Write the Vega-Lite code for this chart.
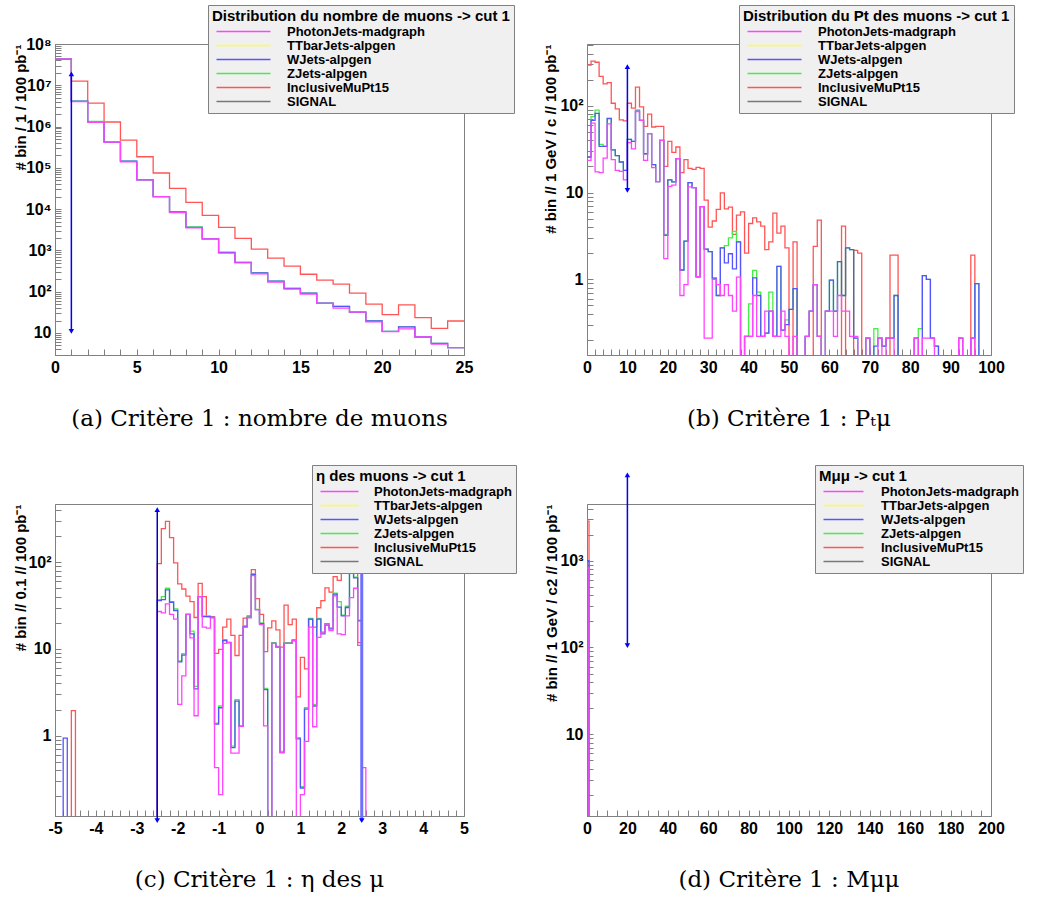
{
"$schema":"https://vega.github.io/schema/vega-lite/v6.json",
"autosize":{"type":"pad"},
"padding":{"left":12,"top":4,"right":0,"bottom":10},
"background":"white",
"config":{
 "font":"Liberation Sans",
 "view":{"stroke":"#808080","strokeWidth":1},
 "axis":{"grid":false,"domainColor":"#808080","tickColor":"#808080","labelFont":"Liberation Sans","labelFontWeight":"bold","labelFontSize":16,"labelColor":"black","titleFont":"Liberation Sans","titleFontWeight":"bold","titleFontSize":15,"titleColor":"black","tickSize":-6,"labelPadding":10,"labelOverlap":false,"labelFlush":false},
 "legend":{"fillColor":"#f0f0f0","strokeColor":"#808080","padding":4,"titleFont":"Liberation Sans","titleFontWeight":"bold","titleFontSize":15,"titleColor":"black","titlePadding":1,"labelFont":"Liberation Sans","labelFontWeight":"bold","labelFontSize":13,"labelColor":"black","symbolStrokeWidth":1.3,"labelLimit":260,"titleLimit":400,"cornerRadius":0},
 "title":{"font":"DejaVu Serif","fontSize":23,"fontWeight":"normal","color":"black","orient":"bottom","anchor":"middle","offset":33}
},
"datasets":{
"names":[{"c":"P","name":"PhotonJets-madgraph"},{"c":"T","name":"TTbarJets-alpgen"},{"c":"W","name":"WJets-alpgen"},{"c":"Z","name":"ZJets-alpgen"},{"c":"I","name":"InclusiveMuPt15"},{"c":"S","name":"SIGNAL"}],
"a":[
{"c":"I","x":0,"y":43000000},{"c":"I","x":1,"y":12600000},{"c":"I","x":2,"y":3700000},{"c":"I","x":3,"y":1290000},{"c":"I","x":4,"y":470000},{"c":"I","x":5,"y":186000},{"c":"I","x":6,"y":75000},{"c":"I","x":7,"y":32000},{"c":"I","x":8,"y":14600},{"c":"I","x":9,"y":7100},{"c":"I","x":10,"y":3600},{"c":"I","x":11,"y":1960},{"c":"I","x":12,"y":1070},{"c":"I","x":13,"y":650},{"c":"I","x":14,"y":415},{"c":"I","x":15,"y":265},{"c":"I","x":16,"y":190},{"c":"I","x":17,"y":152},{"c":"I","x":18,"y":92},{"c":"I","x":19,"y":50},{"c":"I","x":20,"y":28},{"c":"I","x":21,"y":48},{"c":"I","x":22,"y":23.5},{"c":"I","x":23,"y":13},{"c":"I","x":24,"y":19.5},{"c":"I","x":25,"y":19.5},
{"c":"Z","x":0,"y":43000000},{"c":"Z","x":1,"y":4100000},{"c":"Z","x":2,"y":1330000},{"c":"Z","x":3,"y":420000},{"c":"Z","x":4,"y":145000},{"c":"Z","x":5,"y":51000},{"c":"Z","x":6,"y":20000},{"c":"Z","x":7,"y":8600},{"c":"Z","x":8,"y":3700},{"c":"Z","x":9,"y":1900},{"c":"Z","x":10,"y":900},{"c":"Z","x":11,"y":515},{"c":"Z","x":12,"y":285},{"c":"Z","x":13,"y":180},{"c":"Z","x":14,"y":120},{"c":"Z","x":15,"y":92},{"c":"Z","x":16,"y":53},{"c":"Z","x":17,"y":44},{"c":"Z","x":18,"y":32},{"c":"Z","x":19,"y":19.5},{"c":"Z","x":20,"y":11},{"c":"Z","x":21,"y":14},{"c":"Z","x":22,"y":8},{"c":"Z","x":23,"y":5.6},{"c":"Z","x":24,"y":4.4},{"c":"Z","x":25,"y":4.4},
{"c":"W","x":0,"y":43000000},{"c":"W","x":1,"y":4100000},{"c":"W","x":2,"y":1260000},{"c":"W","x":3,"y":420000},{"c":"W","x":4,"y":145000},{"c":"W","x":5,"y":51000},{"c":"W","x":6,"y":20000},{"c":"W","x":7,"y":8600},{"c":"W","x":8,"y":3600},{"c":"W","x":9,"y":1900},{"c":"W","x":10,"y":900},{"c":"W","x":11,"y":515},{"c":"W","x":12,"y":285},{"c":"W","x":13,"y":180},{"c":"W","x":14,"y":120},{"c":"W","x":15,"y":92},{"c":"W","x":16,"y":53},{"c":"W","x":17,"y":44},{"c":"W","x":18,"y":32},{"c":"W","x":19,"y":19.5},{"c":"W","x":20,"y":11},{"c":"W","x":21,"y":14},{"c":"W","x":22,"y":8},{"c":"W","x":23,"y":5.6},{"c":"W","x":24,"y":4.4},{"c":"W","x":25,"y":4.4},
{"c":"P","x":0,"y":43000000},{"c":"P","x":1,"y":4000000},{"c":"P","x":2,"y":1260000},{"c":"P","x":3,"y":420000},{"c":"P","x":4,"y":140000},{"c":"P","x":5,"y":51000},{"c":"P","x":6,"y":20000},{"c":"P","x":7,"y":8300},{"c":"P","x":8,"y":3500},{"c":"P","x":9,"y":1900},{"c":"P","x":10,"y":860},{"c":"P","x":11,"y":500},{"c":"P","x":12,"y":270},{"c":"P","x":13,"y":172},{"c":"P","x":14,"y":116},{"c":"P","x":15,"y":87},{"c":"P","x":16,"y":52},{"c":"P","x":17,"y":40},{"c":"P","x":18,"y":32},{"c":"P","x":19,"y":18.5},{"c":"P","x":20,"y":10.8},{"c":"P","x":21,"y":12.6},{"c":"P","x":22,"y":8},{"c":"P","x":23,"y":5.4},{"c":"P","x":24,"y":4.4},{"c":"P","x":25,"y":4.4}
],
"b":[
{"c":"I","x":0,"y":294},{"c":"I","x":1,"y":327},{"c":"I","x":2,"y":318},{"c":"I","x":3,"y":219},{"c":"I","x":4,"y":179},{"c":"I","x":5,"y":185},{"c":"I","x":6,"y":107},{"c":"I","x":7,"y":92},{"c":"I","x":8,"y":69},{"c":"I","x":9,"y":67},{"c":"I","x":10,"y":107},{"c":"I","x":11,"y":94},{"c":"I","x":12,"y":164},{"c":"I","x":13,"y":97},{"c":"I","x":14,"y":58},{"c":"I","x":15,"y":80},{"c":"I","x":16,"y":57},{"c":"I","x":17,"y":58},{"c":"I","x":19,"y":20},{"c":"I","x":20,"y":39},{"c":"I","x":21,"y":29},{"c":"I","x":22,"y":33.5},{"c":"I","x":23,"y":17},{"c":"I","x":24,"y":24},{"c":"I","x":25,"y":19},{"c":"I","x":26,"y":18.5},{"c":"I","x":27,"y":19.5},{"c":"I","x":28,"y":19},{"c":"I","x":29,"y":8.2},{"c":"I","x":30,"y":4.0},{"c":"I","x":31,"y":4.7},{"c":"I","x":32,"y":6.4},{"c":"I","x":33,"y":9.9},{"c":"I","x":34,"y":6.5},{"c":"I","x":35,"y":6.8},{"c":"I","x":36,"y":3.3},{"c":"I","x":37,"y":5.5},{"c":"I","x":38,"y":6.0},{"c":"I","x":39,"y":2.0},{"c":"I","x":40,"y":4.4},{"c":"I","x":41,"y":5.1},{"c":"I","x":42,"y":4.6},{"c":"I","x":43,"y":4.1},{"c":"I","x":44,"y":2.2},{"c":"I","x":45,"y":2.7},{"c":"I","x":46,"y":5.8},{"c":"I","x":47,"y":3.4},{"c":"I","x":48,"y":4.1},{"c":"I","x":49,"y":2.3},{"c":"I","x":50,"y":0.001},{"c":"I","x":51,"y":2.7},{"c":"I","x":52,"y":0.001},{"c":"I","x":56,"y":2.4},{"c":"I","x":57,"y":4.8},{"c":"I","x":58,"y":0.001},{"c":"I","x":63,"y":4.1},{"c":"I","x":64,"y":0.001},{"c":"I","x":66,"y":2.15},{"c":"I","x":67,"y":2.0},{"c":"I","x":68,"y":0.001},{"c":"I","x":75,"y":1.9},{"c":"I","x":77,"y":0.001},{"c":"I","x":95,"y":1.9},{"c":"I","x":96,"y":0.001},{"c":"I","x":100,"y":0.001},
{"c":"Z","x":0,"y":25.7},{"c":"Z","x":1,"y":75},{"c":"Z","x":2,"y":89},{"c":"Z","x":3,"y":36},{"c":"Z","x":4,"y":34},{"c":"Z","x":5,"y":72},{"c":"Z","x":6,"y":31},{"c":"Z","x":7,"y":26.7},{"c":"Z","x":8,"y":22.5},{"c":"Z","x":9,"y":18},{"c":"Z","x":10,"y":41},{"c":"Z","x":11,"y":39},{"c":"Z","x":12,"y":90},{"c":"Z","x":13,"y":68},{"c":"Z","x":14,"y":28},{"c":"Z","x":15,"y":47.7},{"c":"Z","x":16,"y":21},{"c":"Z","x":17,"y":13.4},{"c":"Z","x":18,"y":40},{"c":"Z","x":19,"y":3.3},{"c":"Z","x":20,"y":14},{"c":"Z","x":21,"y":13.3},{"c":"Z","x":22,"y":24.6},{"c":"Z","x":23,"y":1.28},{"c":"Z","x":24,"y":2.76},{"c":"Z","x":25,"y":13},{"c":"Z","x":26,"y":11.4},{"c":"Z","x":27,"y":1.07},{"c":"Z","x":28,"y":6.9},{"c":"Z","x":29,"y":2.23},{"c":"Z","x":30,"y":2.08},{"c":"Z","x":31,"y":1.03},{"c":"Z","x":32,"y":0.65},{"c":"Z","x":33,"y":2.3},{"c":"Z","x":34,"y":2.45},{"c":"Z","x":35,"y":3.0},{"c":"Z","x":36,"y":3.56},{"c":"Z","x":37,"y":2.7},{"c":"Z","x":38,"y":0.001},{"c":"Z","x":39,"y":0.22},{"c":"Z","x":40,"y":0.52},{"c":"Z","x":41,"y":1.27},{"c":"Z","x":42,"y":0.71},{"c":"Z","x":43,"y":0.22},{"c":"Z","x":44,"y":0.24},{"c":"Z","x":45,"y":0.71},{"c":"Z","x":46,"y":0.22},{"c":"Z","x":47,"y":1.41},{"c":"Z","x":48,"y":0.26},{"c":"Z","x":49,"y":0.34},{"c":"Z","x":50,"y":0.45},{"c":"Z","x":51,"y":0.78},{"c":"Z","x":52,"y":0.001},{"c":"Z","x":54,"y":0.22},{"c":"Z","x":55,"y":0.43},{"c":"Z","x":56,"y":0.87},{"c":"Z","x":57,"y":0.22},{"c":"Z","x":58,"y":0.001},{"c":"Z","x":59,"y":0.43},{"c":"Z","x":60,"y":0.98},{"c":"Z","x":61,"y":0.43},{"c":"Z","x":62,"y":1.6},{"c":"Z","x":63,"y":0.65},{"c":"Z","x":64,"y":2.3},{"c":"Z","x":65,"y":2.2},{"c":"Z","x":66,"y":0.21},{"c":"Z","x":67,"y":0.001},{"c":"Z","x":69,"y":0.21},{"c":"Z","x":70,"y":0.001},{"c":"Z","x":71,"y":0.27},{"c":"Z","x":72,"y":0.21},{"c":"Z","x":73,"y":0.17},{"c":"Z","x":74,"y":0.21},{"c":"Z","x":76,"y":0.65},{"c":"Z","x":77,"y":0.001},{"c":"Z","x":81,"y":0.21},{"c":"Z","x":82,"y":0.27},{"c":"Z","x":83,"y":1.1},{"c":"Z","x":84,"y":1.0},{"c":"Z","x":85,"y":0.21},{"c":"Z","x":86,"y":0.17},{"c":"Z","x":87,"y":0.001},{"c":"Z","x":92,"y":0.21},{"c":"Z","x":93,"y":0.001},{"c":"Z","x":95,"y":0.21},{"c":"Z","x":96,"y":0.89},{"c":"Z","x":97,"y":0.001},{"c":"Z","x":100,"y":0.001},
{"c":"W","x":0,"y":25.7},{"c":"W","x":1,"y":68},{"c":"W","x":2,"y":82},{"c":"W","x":3,"y":34},{"c":"W","x":5,"y":71},{"c":"W","x":6,"y":31},{"c":"W","x":7,"y":26.7},{"c":"W","x":8,"y":22.5},{"c":"W","x":9,"y":18},{"c":"W","x":10,"y":41},{"c":"W","x":11,"y":39},{"c":"W","x":12,"y":87},{"c":"W","x":13,"y":68},{"c":"W","x":14,"y":28},{"c":"W","x":15,"y":47.7},{"c":"W","x":16,"y":21},{"c":"W","x":17,"y":13.4},{"c":"W","x":18,"y":40},{"c":"W","x":19,"y":3.2},{"c":"W","x":20,"y":14},{"c":"W","x":21,"y":13.3},{"c":"W","x":22,"y":24.6},{"c":"W","x":23,"y":1.28},{"c":"W","x":24,"y":2.76},{"c":"W","x":25,"y":13},{"c":"W","x":26,"y":11.4},{"c":"W","x":27,"y":1.07},{"c":"W","x":28,"y":6.9},{"c":"W","x":29,"y":2.23},{"c":"W","x":30,"y":2.08},{"c":"W","x":31,"y":1.03},{"c":"W","x":32,"y":0.65},{"c":"W","x":33,"y":2.3},{"c":"W","x":34,"y":1.55},{"c":"W","x":35,"y":1.97},{"c":"W","x":36,"y":1.32},{"c":"W","x":37,"y":2.7},{"c":"W","x":38,"y":0.001},{"c":"W","x":39,"y":0.22},{"c":"W","x":41,"y":1.04},{"c":"W","x":42,"y":0.65},{"c":"W","x":43,"y":0.22},{"c":"W","x":44,"y":0.24},{"c":"W","x":45,"y":0.43},{"c":"W","x":46,"y":0.22},{"c":"W","x":47,"y":1.41},{"c":"W","x":48,"y":0.26},{"c":"W","x":49,"y":0.3},{"c":"W","x":50,"y":0.45},{"c":"W","x":51,"y":0.78},{"c":"W","x":52,"y":0.001},{"c":"W","x":54,"y":0.22},{"c":"W","x":55,"y":0.43},{"c":"W","x":56,"y":0.87},{"c":"W","x":57,"y":0.22},{"c":"W","x":58,"y":0.001},{"c":"W","x":59,"y":0.43},{"c":"W","x":60,"y":0.98},{"c":"W","x":61,"y":0.43},{"c":"W","x":62,"y":1.6},{"c":"W","x":63,"y":0.65},{"c":"W","x":64,"y":2.3},{"c":"W","x":65,"y":2.2},{"c":"W","x":66,"y":0.21},{"c":"W","x":67,"y":0.001},{"c":"W","x":69,"y":0.21},{"c":"W","x":70,"y":0.001},{"c":"W","x":71,"y":0.17},{"c":"W","x":72,"y":0.21},{"c":"W","x":73,"y":0.17},{"c":"W","x":74,"y":0.21},{"c":"W","x":76,"y":0.65},{"c":"W","x":77,"y":0.001},{"c":"W","x":81,"y":0.21},{"c":"W","x":82,"y":0.001},{"c":"W","x":83,"y":1.1},{"c":"W","x":84,"y":1.0},{"c":"W","x":85,"y":0.21},{"c":"W","x":86,"y":0.17},{"c":"W","x":87,"y":0.001},{"c":"W","x":92,"y":0.21},{"c":"W","x":93,"y":0.001},{"c":"W","x":95,"y":0.21},{"c":"W","x":96,"y":0.89},{"c":"W","x":97,"y":0.001},{"c":"W","x":100,"y":0.001},
{"c":"P","x":0,"y":23.5},{"c":"P","x":1,"y":63},{"c":"P","x":2,"y":17.3},{"c":"P","x":3,"y":17},{"c":"P","x":4,"y":25},{"c":"P","x":5,"y":62},{"c":"P","x":6,"y":24},{"c":"P","x":7,"y":18},{"c":"P","x":8,"y":17.5},{"c":"P","x":9,"y":14},{"c":"P","x":10,"y":37.6},{"c":"P","x":11,"y":31.8},{"c":"P","x":12,"y":86},{"c":"P","x":13,"y":68},{"c":"P","x":14,"y":23.5},{"c":"P","x":15,"y":47.7},{"c":"P","x":16,"y":19.4},{"c":"P","x":17,"y":13.4},{"c":"P","x":18,"y":40},{"c":"P","x":19,"y":1.73},{"c":"P","x":20,"y":11.8},{"c":"P","x":21,"y":12.2},{"c":"P","x":22,"y":24.6},{"c":"P","x":23,"y":0.65},{"c":"P","x":24,"y":0.87},{"c":"P","x":25,"y":11.6},{"c":"P","x":26,"y":11.4},{"c":"P","x":27,"y":1.07},{"c":"P","x":28,"y":6.9},{"c":"P","x":29,"y":0.21},{"c":"P","x":31,"y":1.0},{"c":"P","x":32,"y":0.87},{"c":"P","x":33,"y":0.65},{"c":"P","x":34,"y":0.87},{"c":"P","x":35,"y":0.65},{"c":"P","x":36,"y":0.43},{"c":"P","x":37,"y":1.06},{"c":"P","x":38,"y":0.001},{"c":"P","x":39,"y":0.22},{"c":"P","x":41,"y":0.65},{"c":"P","x":42,"y":0.22},{"c":"P","x":44,"y":0.43},{"c":"P","x":46,"y":0.22},{"c":"P","x":48,"y":0.43},{"c":"P","x":49,"y":0.22},{"c":"P","x":50,"y":0.001},{"c":"P","x":51,"y":0.22},{"c":"P","x":52,"y":0.001},{"c":"P","x":54,"y":0.22},{"c":"P","x":55,"y":0.43},{"c":"P","x":56,"y":0.87},{"c":"P","x":57,"y":0.22},{"c":"P","x":58,"y":0.001},{"c":"P","x":59,"y":0.43},{"c":"P","x":61,"y":0.22},{"c":"P","x":62,"y":0.65},{"c":"P","x":63,"y":0.43},{"c":"P","x":65,"y":0.22},{"c":"P","x":67,"y":0.001},{"c":"P","x":69,"y":0.21},{"c":"P","x":70,"y":0.001},{"c":"P","x":72,"y":0.21},{"c":"P","x":73,"y":0.001},{"c":"P","x":74,"y":0.21},{"c":"P","x":76,"y":0.001},{"c":"P","x":81,"y":0.21},{"c":"P","x":82,"y":0.001},{"c":"P","x":83,"y":0.21},{"c":"P","x":86,"y":0.001},{"c":"P","x":92,"y":0.21},{"c":"P","x":93,"y":0.001},{"c":"P","x":95,"y":0.21},{"c":"P","x":96,"y":0.001},{"c":"P","x":100,"y":0.001}
],
"c":[
{"c":"I","x":-5,"y":0.001},{"c":"I","x":-4.6,"y":1.95},{"c":"I","x":-4.5,"y":0.001},{"c":"I","x":-2.5,"y":96},{"c":"I","x":-2.4,"y":243},{"c":"I","x":-2.3,"y":295},{"c":"I","x":-2.2,"y":191},{"c":"I","x":-2.1,"y":98},{"c":"I","x":-2.0,"y":56},{"c":"I","x":-1.9,"y":49},{"c":"I","x":-1.8,"y":40.6},{"c":"I","x":-1.7,"y":35},{"c":"I","x":-1.6,"y":23},{"c":"I","x":-1.5,"y":57},{"c":"I","x":-1.4,"y":40},{"c":"I","x":-1.3,"y":23.6},{"c":"I","x":-1.1,"y":8.9},{"c":"I","x":-1.0,"y":9.9},{"c":"I","x":-0.9,"y":17.8},{"c":"I","x":-0.8,"y":22},{"c":"I","x":-0.7,"y":14.3},{"c":"I","x":-0.6,"y":8.4},{"c":"I","x":-0.5,"y":14.3},{"c":"I","x":-0.4,"y":22.6},{"c":"I","x":-0.3,"y":24},{"c":"I","x":-0.2,"y":82},{"c":"I","x":-0.1,"y":38},{"c":"I","x":0,"y":25},{"c":"I","x":0.1,"y":9.3},{"c":"I","x":0.2,"y":17.5},{"c":"I","x":0.3,"y":21},{"c":"I","x":0.4,"y":16.6},{"c":"I","x":0.5,"y":10.5},{"c":"I","x":0.6,"y":32},{"c":"I","x":0.7,"y":19},{"c":"I","x":0.8,"y":22},{"c":"I","x":0.9,"y":2.8},{"c":"I","x":1.0,"y":8.0},{"c":"I","x":1.1,"y":5.9},{"c":"I","x":1.2,"y":22},{"c":"I","x":1.3,"y":17.8},{"c":"I","x":1.4,"y":29.8},{"c":"I","x":1.5,"y":36},{"c":"I","x":1.6,"y":50.6},{"c":"I","x":1.7,"y":45},{"c":"I","x":1.8,"y":68},{"c":"I","x":1.9,"y":61.5},{"c":"I","x":2.0,"y":109},{"c":"I","x":2.1,"y":163},{"c":"I","x":2.2,"y":250},{"c":"I","x":2.3,"y":700},{"c":"I","x":2.4,"y":11.8},{"c":"I","x":2.5,"y":0.001},{"c":"I","x":5,"y":0.001},
{"c":"Z","x":-5,"y":0.001},{"c":"Z","x":-2.5,"y":37},{"c":"Z","x":-2.4,"y":40},{"c":"Z","x":-2.3,"y":50},{"c":"Z","x":-2.2,"y":35},{"c":"Z","x":-2.1,"y":29},{"c":"Z","x":-2.0,"y":7.3},{"c":"Z","x":-1.9,"y":8.8},{"c":"Z","x":-1.8,"y":25},{"c":"Z","x":-1.7,"y":16},{"c":"Z","x":-1.6,"y":3.7},{"c":"Z","x":-1.5,"y":40},{"c":"Z","x":-1.4,"y":24},{"c":"Z","x":-1.2,"y":23},{"c":"Z","x":-1.1,"y":1.4},{"c":"Z","x":-1.0,"y":2.2},{"c":"Z","x":-0.9,"y":12.8},{"c":"Z","x":-0.8,"y":12},{"c":"Z","x":-0.7,"y":0.76},{"c":"Z","x":-0.6,"y":2.6},{"c":"Z","x":-0.5,"y":1.3},{"c":"Z","x":-0.4,"y":18.5},{"c":"Z","x":-0.3,"y":23.5},{"c":"Z","x":-0.2,"y":73},{"c":"Z","x":-0.1,"y":28.6},{"c":"Z","x":0,"y":20},{"c":"Z","x":0.1,"y":3.5},{"c":"Z","x":0.2,"y":0.001},{"c":"Z","x":0.3,"y":11.8},{"c":"Z","x":0.4,"y":10.7},{"c":"Z","x":0.5,"y":0.66},{"c":"Z","x":0.6,"y":11.8},{"c":"Z","x":0.8,"y":12.8},{"c":"Z","x":0.9,"y":0.95},{"c":"Z","x":1.0,"y":0.26},{"c":"Z","x":1.1,"y":2.1},{"c":"Z","x":1.2,"y":22.5},{"c":"Z","x":1.3,"y":2.3},{"c":"Z","x":1.4,"y":22.5},{"c":"Z","x":1.5,"y":15.5},{"c":"Z","x":1.6,"y":19.5},{"c":"Z","x":1.7,"y":17.5},{"c":"Z","x":1.8,"y":44},{"c":"Z","x":1.9,"y":35},{"c":"Z","x":2.0,"y":24.5},{"c":"Z","x":2.1,"y":31},{"c":"Z","x":2.2,"y":78},{"c":"Z","x":2.3,"y":67},{"c":"Z","x":2.4,"y":21.5},{"c":"Z","x":2.5,"y":0.001},{"c":"Z","x":5,"y":0.001},
{"c":"W","x":-5,"y":0.001},{"c":"W","x":-4.8,"y":0.94},{"c":"W","x":-4.7,"y":0.001},{"c":"W","x":-2.5,"y":36},{"c":"W","x":-2.4,"y":37},{"c":"W","x":-2.3,"y":48},{"c":"W","x":-2.2,"y":34.5},{"c":"W","x":-2.1,"y":27.7},{"c":"W","x":-2.0,"y":7.1},{"c":"W","x":-1.9,"y":8.5},{"c":"W","x":-1.8,"y":25},{"c":"W","x":-1.7,"y":14.9},{"c":"W","x":-1.6,"y":3.46},{"c":"W","x":-1.5,"y":40},{"c":"W","x":-1.4,"y":23.6},{"c":"W","x":-1.2,"y":23},{"c":"W","x":-1.1,"y":1.36},{"c":"W","x":-1.0,"y":2.1},{"c":"W","x":-0.9,"y":12.5},{"c":"W","x":-0.8,"y":11.8},{"c":"W","x":-0.7,"y":0.73},{"c":"W","x":-0.6,"y":2.5},{"c":"W","x":-0.5,"y":1.28},{"c":"W","x":-0.4,"y":18},{"c":"W","x":-0.3,"y":23},{"c":"W","x":-0.2,"y":72},{"c":"W","x":-0.1,"y":28.4},{"c":"W","x":0,"y":19.5},{"c":"W","x":0.1,"y":3.4},{"c":"W","x":0.2,"y":0.001},{"c":"W","x":0.3,"y":11.6},{"c":"W","x":0.4,"y":10.5},{"c":"W","x":0.5,"y":0.64},{"c":"W","x":0.6,"y":11.6},{"c":"W","x":0.8,"y":12.5},{"c":"W","x":0.9,"y":0.92},{"c":"W","x":1.0,"y":0.25},{"c":"W","x":1.1,"y":2.03},{"c":"W","x":1.2,"y":22},{"c":"W","x":1.3,"y":2.2},{"c":"W","x":1.4,"y":22},{"c":"W","x":1.5,"y":14.9},{"c":"W","x":1.6,"y":18.8},{"c":"W","x":1.7,"y":17},{"c":"W","x":1.8,"y":42.7},{"c":"W","x":1.9,"y":30.3},{"c":"W","x":2.0,"y":24},{"c":"W","x":2.1,"y":30},{"c":"W","x":2.2,"y":75},{"c":"W","x":2.3,"y":66},{"c":"W","x":2.4,"y":21},{"c":"W","x":2.5,"y":0.001},{"c":"W","x":5,"y":0.001},
{"c":"P","x":-5,"y":0.001},{"c":"P","x":-2.5,"y":27},{"c":"P","x":-2.4,"y":26},{"c":"P","x":-2.3,"y":33},{"c":"P","x":-2.2,"y":25},{"c":"P","x":-2.1,"y":22},{"c":"P","x":-2.0,"y":2.3},{"c":"P","x":-1.9,"y":4.9},{"c":"P","x":-1.8,"y":25},{"c":"P","x":-1.7,"y":13.4},{"c":"P","x":-1.6,"y":1.7},{"c":"P","x":-1.5,"y":40},{"c":"P","x":-1.4,"y":17.8},{"c":"P","x":-1.3,"y":17.4},{"c":"P","x":-1.2,"y":23},{"c":"P","x":-1.1,"y":0.43},{"c":"P","x":-1.0,"y":0.21},{"c":"P","x":-0.9,"y":11.6},{"c":"P","x":-0.8,"y":11.8},{"c":"P","x":-0.7,"y":0.63},{"c":"P","x":-0.5,"y":1.28},{"c":"P","x":-0.4,"y":17.8},{"c":"P","x":-0.3,"y":23},{"c":"P","x":-0.2,"y":70},{"c":"P","x":-0.1,"y":28.4},{"c":"P","x":0,"y":19},{"c":"P","x":0.1,"y":1.3},{"c":"P","x":0.2,"y":0.001},{"c":"P","x":0.3,"y":11.6},{"c":"P","x":0.4,"y":10.5},{"c":"P","x":0.5,"y":0.64},{"c":"P","x":0.6,"y":11.6},{"c":"P","x":0.8,"y":12.5},{"c":"P","x":0.9,"y":0.001},{"c":"P","x":1.0,"y":0.21},{"c":"P","x":1.1,"y":0.86},{"c":"P","x":1.2,"y":17.8},{"c":"P","x":1.3,"y":1.27},{"c":"P","x":1.4,"y":13.6},{"c":"P","x":1.5,"y":15.6},{"c":"P","x":1.6,"y":19.5},{"c":"P","x":1.7,"y":16.3},{"c":"P","x":1.8,"y":41},{"c":"P","x":1.9,"y":14.9},{"c":"P","x":2.0,"y":14.6},{"c":"P","x":2.1,"y":24},{"c":"P","x":2.2,"y":39},{"c":"P","x":2.3,"y":50},{"c":"P","x":2.4,"y":11},{"c":"P","x":2.5,"y":0.43},{"c":"P","x":2.6,"y":0.001},{"c":"P","x":5,"y":0.001}
],
"d":[
{"c":"I","x":0,"y":2870},{"c":"I","x":1,"y":0.001},{"c":"I","x":200,"y":0.001},
{"c":"W","x":0,"y":1000},{"c":"W","x":1,"y":0.001},{"c":"W","x":200,"y":0.001},
{"c":"P","x":0,"y":820},{"c":"P","x":1,"y":0.001},{"c":"P","x":200,"y":0.001}
],
"aa":[{"x":1,"y":11,"y2":19000000}],
"ah":[{"x":1,"y":19000000,"d":"up"},{"x":1,"y":11,"d":"down"}],
"ba":[{"x":10,"y":10.6,"y2":283}],
"bh":[{"x":10,"y":283,"d":"up"},{"x":10,"y":10.6,"d":"down"}],
"ca1":[{"x":-2.5,"y":0.105,"y2":402}],
"ca2":[{"x":2.5,"y":0.105,"y2":402}],
"ch":[{"x":-2.5,"y":402,"d":"up"},{"x":-2.5,"y":0.105,"d":"down"},{"x":2.5,"y":0.105,"d":"down"}],
"da":[{"x":20,"y":105,"y2":9800}],
"dh":[{"x":20,"y":9800,"d":"up"},{"x":20,"y":105,"d":"down"}]
},
"columns":2,
"bounds":"flush",
"spacing":{"row":149,"column":123},
"resolve":{"scale":{"x":"independent","y":"independent","color":"independent","shape":"independent"},"axis":{"x":"independent","y":"independent"},"legend":{"color":"independent","shape":"independent"}},
"concat":[
{"width":409,"height":311,"title":{"text":"(a)  Critère 1 : nombre de muons"},
"layer":[
{"data":{"name":"a"},"transform":[{"lookup":"c","from":{"data":{"name":"names"},"key":"c","fields":["name"]}}],
"mark":{"type":"line","interpolate":"step-after","clip":true,"strokeWidth":1.3},
"encoding":{
"x":{"field":"x","type":"quantitative","scale":{"domain":[0,25],"nice":false,"zero":false},"title":null,"axis":{"values":[0,1,2,3,4,5,6,7,8,9,10,11,12,13,14,15,16,17,18,19,20,21,22,23,24,25],"tickCount":500,"labelExpr":"datum.value % 5 == 0 ? '' + datum.value : ''","labelOverlap":false}},
"y":{"field":"y","type":"quantitative","scale":{"type":"log","domain":[2.93,100000000],"nice":false},"title":"# bin / 1 / 100 pb⁻¹","axis":{"tickCount":20,"labelOverlap":false,"labelExpr":"abs(log(datum.value)/LN10 - round(log(datum.value)/LN10)) < 0.001 ? (round(log(datum.value)/LN10) == 0 ? '1' : round(log(datum.value)/LN10) == 1 ? '10' : '10' + ['⁰','¹','²','³','⁴','⁵','⁶','⁷','⁸','⁹'][round(log(datum.value)/LN10)]) : ''","titleX":-35,"titleY":0,"titleAlign":"right","titleAngle":-90,"titleBaseline":"middle"}},
"color":{"field":"name","type":"nominal","scale":{"domain":["PhotonJets-madgraph","TTbarJets-alpgen","WJets-alpgen","ZJets-alpgen","InclusiveMuPt15","SIGNAL"],"range":["#ff44ff","#ffff33","#5555ff","#44ee44","#ff5555","#777777"]},"legend":{"orient":"none","legendX":153,"legendY":-39,"title":"Distribution du nombre de muons -> cut 1","symbolType":"M-1,0H26","symbolSize":16,"labelOffset":62,"rowPadding":0}}
}},
{"data":{"name":"aa"},"mark":{"type":"rule","color":"#0000ff","strokeWidth":1.5},
"encoding":{"x":{"field":"x","type":"quantitative","scale":{"domain":[0,25],"nice":false,"zero":false},"title":null},"y":{"field":"y","type":"quantitative","scale":{"type":"log","domain":[2.93,100000000],"nice":false},"title":"# bin / 1 / 100 pb⁻¹"},"y2":{"field":"y2"}}},
{"data":{"name":"ah"},"mark":{"type":"point","filled":true,"color":"#0000ff","size":30,"opacity":1},
"encoding":{"x":{"field":"x","type":"quantitative","scale":{"domain":[0,25],"nice":false,"zero":false},"title":null},"y":{"field":"y","type":"quantitative","scale":{"type":"log","domain":[2.93,100000000],"nice":false},"title":"# bin / 1 / 100 pb⁻¹"},"shape":{"field":"d","type":"nominal","scale":{"domain":["up","down"],"range":["triangle-up","triangle-down"]},"legend":null}}}
]},
{"width":404,"height":311,"title":{"text":"(b)  Critère 1 : Pₜμ"},
"layer":[
{"data":{"name":"b"},"transform":[{"lookup":"c","from":{"data":{"name":"names"},"key":"c","fields":["name"]}}],
"mark":{"type":"line","interpolate":"step-after","clip":true,"strokeWidth":1.3},
"encoding":{
"x":{"field":"x","type":"quantitative","scale":{"domain":[0,100],"nice":false,"zero":false},"title":null,"axis":{"values":[0,2,4,6,8,10,12,14,16,18,20,22,24,26,28,30,32,34,36,38,40,42,44,46,48,50,52,54,56,58,60,62,64,66,68,70,72,74,76,78,80,82,84,86,88,90,92,94,96,98,100],"tickCount":500,"labelExpr":"datum.value % 10 == 0 ? '' + datum.value : ''","labelOverlap":false}},
"y":{"field":"y","type":"quantitative","scale":{"type":"log","domain":[0.134,516],"nice":false},"title":"# bin // 1 GeV / c  // 100 pb⁻¹","axis":{"tickCount":20,"labelOverlap":false,"labelExpr":"abs(log(datum.value)/LN10 - round(log(datum.value)/LN10)) < 0.001 ? (round(log(datum.value)/LN10) == 0 ? '1' : round(log(datum.value)/LN10) == 1 ? '10' : '10' + ['⁰','¹','²','³','⁴','⁵','⁶','⁷','⁸','⁹'][round(log(datum.value)/LN10)]) : ''","titleX":-37,"titleY":0,"titleAlign":"right","titleAngle":-90,"titleBaseline":"middle"}},
"color":{"field":"name","type":"nominal","scale":{"domain":["PhotonJets-madgraph","TTbarJets-alpgen","WJets-alpgen","ZJets-alpgen","InclusiveMuPt15","SIGNAL"],"range":["#ff44ff","#ffff33","#5555ff","#44ee44","#ff5555","#777777"]},"legend":{"orient":"none","legendX":152,"legendY":-39,"title":"Distribution du Pt des muons -> cut 1","symbolType":"M-1,0H26","symbolSize":16,"labelOffset":62,"rowPadding":0}}
}},
{"data":{"name":"ba"},"mark":{"type":"rule","color":"#0000ff","strokeWidth":1.5},
"encoding":{"x":{"field":"x","type":"quantitative","scale":{"domain":[0,100],"nice":false,"zero":false},"title":null},"y":{"field":"y","type":"quantitative","scale":{"type":"log","domain":[0.134,516],"nice":false},"title":"# bin // 1 GeV / c  // 100 pb⁻¹"},"y2":{"field":"y2"}}},
{"data":{"name":"bh"},"mark":{"type":"point","filled":true,"color":"#0000ff","size":30,"opacity":1},
"encoding":{"x":{"field":"x","type":"quantitative","scale":{"domain":[0,100],"nice":false,"zero":false},"title":null},"y":{"field":"y","type":"quantitative","scale":{"type":"log","domain":[0.134,516],"nice":false},"title":"# bin // 1 GeV / c  // 100 pb⁻¹"},"shape":{"field":"d","type":"nominal","scale":{"domain":["up","down"],"range":["triangle-up","triangle-down"]},"legend":null}}}
]},
{"width":409,"height":312,"title":{"text":"(c)  Critère 1 : η des μ"},
"layer":[
{"data":{"name":"c"},"transform":[{"lookup":"c","from":{"data":{"name":"names"},"key":"c","fields":["name"]}}],
"mark":{"type":"line","interpolate":"step-after","clip":true,"strokeWidth":1.3},
"encoding":{
"x":{"field":"x","type":"quantitative","scale":{"domain":[-5,5],"nice":false,"zero":false},"title":null,"axis":{"values":[-5,-4.8,-4.6,-4.4,-4.2,-4,-3.8,-3.6,-3.4,-3.2,-3,-2.8,-2.6,-2.4,-2.2,-2,-1.8,-1.6,-1.4,-1.2,-1,-0.8,-0.6,-0.4,-0.2,0,0.2,0.4,0.6,0.8,1,1.2,1.4,1.6,1.8,2,2.2,2.4,2.6,2.8,3,3.2,3.4,3.6,3.8,4,4.2,4.4,4.6,4.8,5],"tickCount":500,"labelExpr":"datum.value == round(datum.value) ? '' + datum.value : ''","labelOverlap":false}},
"y":{"field":"y","type":"quantitative","scale":{"type":"log","domain":[0.119,467],"nice":false},"title":"# bin // 0.1  // 100 pb⁻¹","axis":{"tickCount":20,"labelOverlap":false,"labelExpr":"abs(log(datum.value)/LN10 - round(log(datum.value)/LN10)) < 0.001 ? (round(log(datum.value)/LN10) == 0 ? '1' : round(log(datum.value)/LN10) == 1 ? '10' : '10' + ['⁰','¹','²','³','⁴','⁵','⁶','⁷','⁸','⁹'][round(log(datum.value)/LN10)]) : ''","titleX":-35,"titleY":0,"titleAlign":"right","titleAngle":-90,"titleBaseline":"middle"}},
"color":{"field":"name","type":"nominal","scale":{"domain":["PhotonJets-madgraph","TTbarJets-alpgen","WJets-alpgen","ZJets-alpgen","InclusiveMuPt15","SIGNAL"],"range":["#ff44ff","#ffff33","#5555ff","#44ee44","#ff5555","#777777"]},"legend":{"orient":"none","legendX":257,"legendY":-39,"title":"η des muons -> cut 1","symbolType":"M-1,0H18","symbolSize":16,"labelOffset":45,"rowPadding":0}}
}},
{"data":{"name":"ca1"},"mark":{"type":"rule","color":"#0000cc","strokeWidth":1.5},
"encoding":{"x":{"field":"x","type":"quantitative","scale":{"domain":[-5,5],"nice":false,"zero":false},"title":null},"y":{"field":"y","type":"quantitative","scale":{"type":"log","domain":[0.119,467],"nice":false},"title":"# bin // 0.1  // 100 pb⁻¹"},"y2":{"field":"y2"}}},
{"data":{"name":"ca2"},"mark":{"type":"rule","color":"#6f6fff","strokeWidth":3},
"encoding":{"x":{"field":"x","type":"quantitative","scale":{"domain":[-5,5],"nice":false,"zero":false},"title":null},"y":{"field":"y","type":"quantitative","scale":{"type":"log","domain":[0.119,467],"nice":false},"title":"# bin // 0.1  // 100 pb⁻¹"},"y2":{"field":"y2"}}},
{"data":{"name":"ch"},"mark":{"type":"point","filled":true,"color":"#0000ff","size":30,"opacity":1},
"encoding":{"x":{"field":"x","type":"quantitative","scale":{"domain":[-5,5],"nice":false,"zero":false},"title":null},"y":{"field":"y","type":"quantitative","scale":{"type":"log","domain":[0.119,467],"nice":false},"title":"# bin // 0.1  // 100 pb⁻¹"},"shape":{"field":"d","type":"nominal","scale":{"domain":["up","down"],"range":["triangle-up","triangle-down"]},"legend":null}}}
]},
{"width":404,"height":312,"title":{"text":"(d)  Critère 1 : Mμμ"},
"layer":[
{"data":{"name":"d"},"transform":[{"lookup":"c","from":{"data":{"name":"names"},"key":"c","fields":["name"]}}],
"mark":{"type":"line","interpolate":"step-after","clip":true,"strokeWidth":1.3},
"encoding":{
"x":{"field":"x","type":"quantitative","scale":{"domain":[0,200],"nice":false,"zero":false},"title":null,"axis":{"values":[0,5,10,15,20,25,30,35,40,45,50,55,60,65,70,75,80,85,90,95,100,105,110,115,120,125,130,135,140,145,150,155,160,165,170,175,180,185,190,195,200],"tickCount":500,"labelExpr":"datum.value % 20 == 0 ? '' + datum.value : ''","labelOverlap":false}},
"y":{"field":"y","type":"quantitative","scale":{"type":"log","domain":[1.14,4510],"nice":false},"title":"# bin // 1 GeV / c2  // 100 pb⁻¹","axis":{"tickCount":20,"labelOverlap":false,"labelExpr":"abs(log(datum.value)/LN10 - round(log(datum.value)/LN10)) < 0.001 ? (round(log(datum.value)/LN10) == 0 ? '' : round(log(datum.value)/LN10) == 1 ? '10' : '10' + ['⁰','¹','²','³','⁴','⁵','⁶','⁷','⁸','⁹'][round(log(datum.value)/LN10)]) : ''","titleX":-36,"titleY":0,"titleAlign":"right","titleAngle":-90,"titleBaseline":"middle"}},
"color":{"field":"name","type":"nominal","scale":{"domain":["PhotonJets-madgraph","TTbarJets-alpgen","WJets-alpgen","ZJets-alpgen","InclusiveMuPt15","SIGNAL"],"range":["#ff44ff","#ffff33","#5555ff","#44ee44","#ff5555","#777777"]},"legend":{"orient":"none","legendX":228,"legendY":-39,"title":"Mμμ -> cut 1","symbolType":"M-1,0H19","symbolSize":16,"labelOffset":49,"rowPadding":0}}
}},
{"data":{"name":"da"},"mark":{"type":"rule","color":"#0000ff","strokeWidth":1.5},
"encoding":{"x":{"field":"x","type":"quantitative","scale":{"domain":[0,200],"nice":false,"zero":false},"title":null},"y":{"field":"y","type":"quantitative","scale":{"type":"log","domain":[1.14,4510],"nice":false},"title":"# bin // 1 GeV / c2  // 100 pb⁻¹"},"y2":{"field":"y2"}}},
{"data":{"name":"dh"},"mark":{"type":"point","filled":true,"color":"#0000ff","size":30,"opacity":1},
"encoding":{"x":{"field":"x","type":"quantitative","scale":{"domain":[0,200],"nice":false,"zero":false},"title":null},"y":{"field":"y","type":"quantitative","scale":{"type":"log","domain":[1.14,4510],"nice":false},"title":"# bin // 1 GeV / c2  // 100 pb⁻¹"},"shape":{"field":"d","type":"nominal","scale":{"domain":["up","down"],"range":["triangle-up","triangle-down"]},"legend":null}}}
]}
]
}
